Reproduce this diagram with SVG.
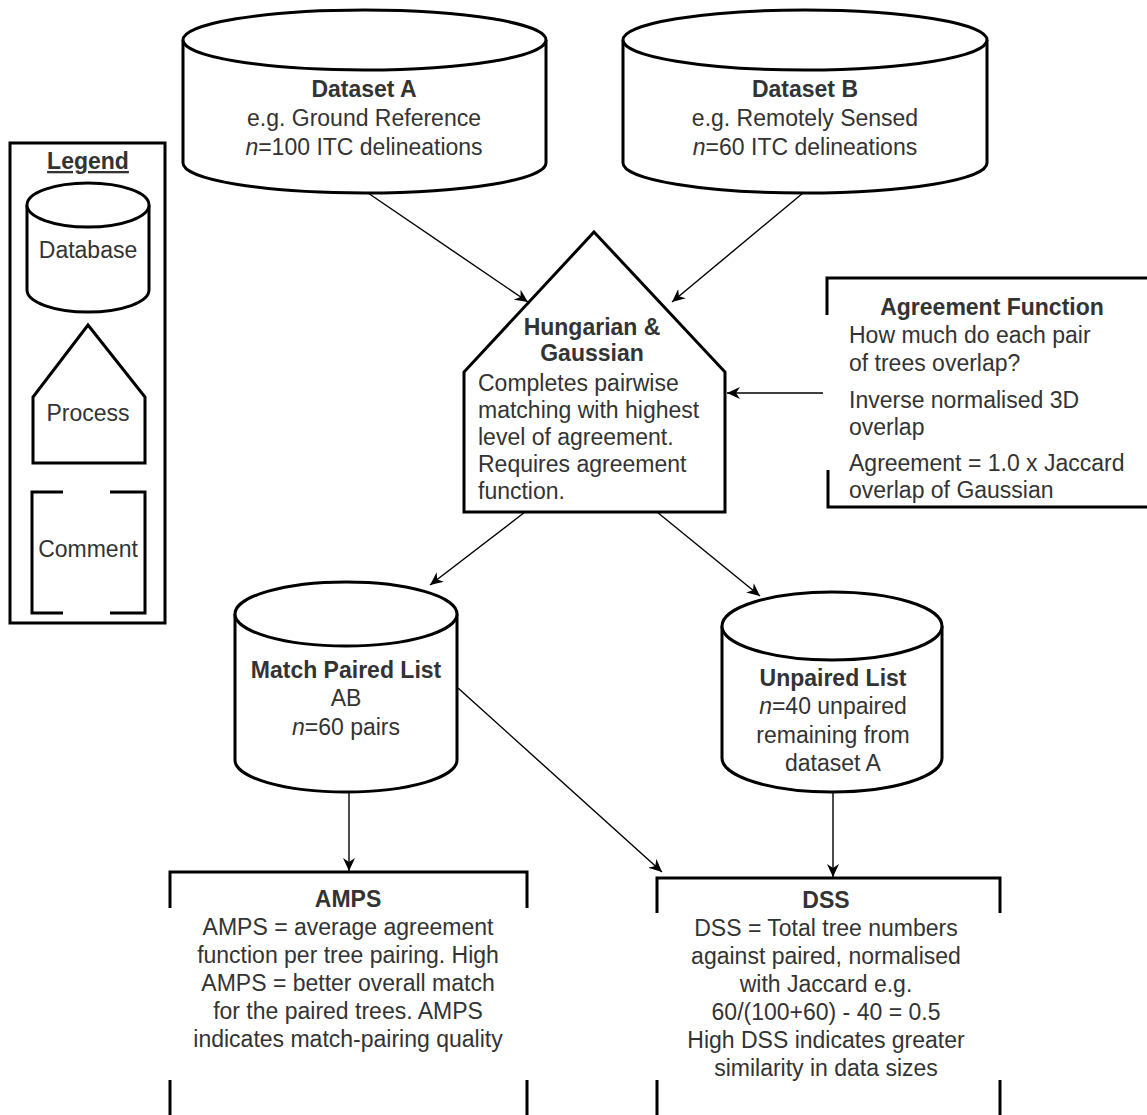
<svg xmlns="http://www.w3.org/2000/svg" width="1147" height="1115" viewBox="0 0 1147 1115">
<defs>
<style>
.sh{fill:#fff;stroke:#000;stroke-width:3;stroke-linejoin:miter}
.br{fill:none;stroke:#000;stroke-width:3}
.t{font-family:"Liberation Sans",Arial,sans-serif;font-size:23px;fill:#333}
.c{text-anchor:middle}
.b{font-weight:bold}
.i{font-style:italic}
.cn{fill:none;stroke:#000;stroke-width:1.4}
</style>
<marker id="ah" markerWidth="14" markerHeight="12" refX="13" refY="6" orient="auto" markerUnits="userSpaceOnUse">
<path d="M0,0 L13,6 L0,12 L4,6 Z" fill="#000"/>
</marker>
</defs>
<rect width="1147" height="1115" fill="#fff"/>

<g id="legend">
<rect x="10" y="143" width="155" height="480" fill="none" stroke="#000" stroke-width="3"/>
<text class="t c b" x="88" y="169" text-decoration="underline">Legend</text>
<path class="sh" d="M27,205 L27,290 A61,22 0 0 0 149,290 L149,205"/>
<ellipse class="sh" cx="88" cy="205" rx="61" ry="22"/>
<text class="t c" x="88" y="258">Database</text>
<path class="sh" d="M88,325 L145,397 L145,463 L33,463 L33,397 Z"/>
<text class="t c" x="88" y="421">Process</text>
<path class="br" d="M63,492 H32 V613 H63 M110,492 H145 V613 H110"/>
<text class="t c" x="88" y="557">Comment</text>
</g>

<g id="connectors">
<line class="cn" x1="368" y1="193" x2="528" y2="302" marker-end="url(#ah)"/>
<line class="cn" x1="803" y1="193" x2="672" y2="302" marker-end="url(#ah)"/>
<line class="cn" x1="823" y1="393" x2="727" y2="393" marker-end="url(#ah)"/>
<line class="cn" x1="525" y1="512" x2="430" y2="585" marker-end="url(#ah)"/>
<line class="cn" x1="657" y1="512" x2="760" y2="596" marker-end="url(#ah)"/>
<line class="cn" x1="458" y1="688" x2="662" y2="872" marker-end="url(#ah)"/>
<line class="cn" x1="349" y1="792" x2="349" y2="871" marker-end="url(#ah)"/>
<line class="cn" x1="833" y1="792" x2="833" y2="877" marker-end="url(#ah)"/>
</g>

<g id="datasetA">
<path class="sh" d="M183,40 L183,163 A181.5,30 0 0 0 546,163 L546,40"/>
<ellipse class="sh" cx="364.5" cy="40" rx="181.5" ry="30"/>
<text class="t c b" x="364" y="97">Dataset A</text>
<text class="t c" x="364" y="126">e.g. Ground Reference</text>
<text class="t c" x="364" y="155"><tspan class="i">n</tspan>=100 ITC delineations</text>
</g>

<g id="datasetB">
<path class="sh" d="M623,40 L623,163 A182,30 0 0 0 987,163 L987,40"/>
<ellipse class="sh" cx="805" cy="40" rx="182" ry="30"/>
<text class="t c b" x="805" y="97">Dataset B</text>
<text class="t c" x="805" y="126">e.g. Remotely Sensed</text>
<text class="t c" x="805" y="155"><tspan class="i">n</tspan>=60 ITC delineations</text>
</g>

<g id="hungarian">
<path class="sh" d="M594,232 L725,372 L725,512 L464,512 L464,372 Z"/>
<text class="t c b" x="592" y="335">Hungarian &amp;</text>
<text class="t c b" x="592" y="361">Gaussian</text>
<text class="t" x="478" y="391">Completes pairwise</text>
<text class="t" x="478" y="418">matching with highest</text>
<text class="t" x="478" y="445">level of agreement.</text>
<text class="t" x="478" y="472">Requires agreement</text>
<text class="t" x="478" y="499">function.</text>
</g>

<g id="agreement">
<path class="br" d="M827,315 V278 H1147 M828,470 V507 H1147"/>
<text class="t c b" x="992" y="315">Agreement Function</text>
<text class="t" x="849" y="343">How much do each pair</text>
<text class="t" x="849" y="371">of trees overlap?</text>
<text class="t" x="849" y="408">Inverse normalised 3D</text>
<text class="t" x="849" y="435">overlap</text>
<text class="t" x="849" y="471">Agreement = 1.0 x Jaccard</text>
<text class="t" x="849" y="498">overlap of Gaussian</text>
</g>

<g id="matchPaired">
<path class="sh" d="M235,614 L235,760 A111,32 0 0 0 457,760 L457,614"/>
<ellipse class="sh" cx="346" cy="614" rx="111" ry="32"/>
<text class="t c b" x="346" y="678">Match Paired List</text>
<text class="t c" x="346" y="706">AB</text>
<text class="t c" x="346" y="735"><tspan class="i">n</tspan>=60 pairs</text>
</g>

<g id="unpaired">
<path class="sh" d="M722,626 L722,758 A110,34 0 0 0 942,758 L942,626"/>
<ellipse class="sh" cx="832" cy="626" rx="110" ry="34"/>
<text class="t c b" x="833" y="686">Unpaired List</text>
<text class="t c" x="833" y="714"><tspan class="i">n</tspan>=40 unpaired</text>
<text class="t c" x="833" y="743">remaining from</text>
<text class="t c" x="833" y="771">dataset A</text>
</g>

<g id="amps">
<path class="br" d="M170,908 V872 H527 V908 M170,1080 V1116 M527,1080 V1116"/>
<text class="t c b" x="348" y="907">AMPS</text>
<text class="t c" x="348" y="935">AMPS = average agreement</text>
<text class="t c" x="348" y="963">function per tree pairing. High</text>
<text class="t c" x="348" y="991">AMPS = better overall match</text>
<text class="t c" x="348" y="1019">for the paired trees. AMPS</text>
<text class="t c" x="348" y="1047">indicates match-pairing quality</text>
</g>

<g id="dss">
<path class="br" d="M657,913 V878 H1000 V913 M657,1080 V1116 M1000,1080 V1116"/>
<text class="t c b" x="826" y="908">DSS</text>
<text class="t c" x="826" y="936">DSS = Total tree numbers</text>
<text class="t c" x="826" y="964">against paired, normalised</text>
<text class="t c" x="826" y="992">with Jaccard e.g.</text>
<text class="t c" x="826" y="1020">60/(100+60) - 40 = 0.5</text>
<text class="t c" x="826" y="1048">High DSS indicates greater</text>
<text class="t c" x="826" y="1076">similarity in data sizes</text>
</g>
</svg>
